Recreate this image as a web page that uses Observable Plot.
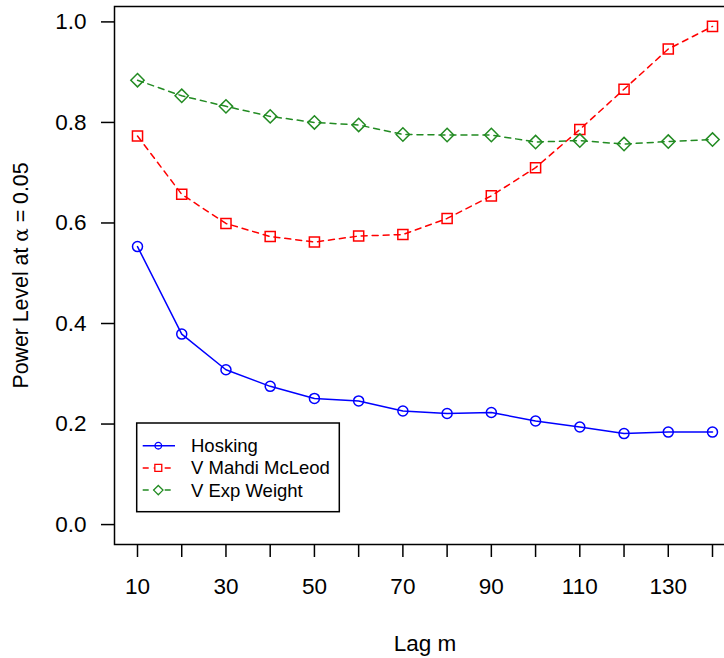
<!DOCTYPE html>
<html>
<head>
<meta charset="utf-8">
<script src="https://cdn.jsdelivr.net/npm/d3@7"></script>
<script src="https://cdn.jsdelivr.net/npm/@observablehq/plot@0.6"></script>
<style>
  html, body { margin: 0; padding: 0; overflow: hidden; background: white; }
  #chart { position: relative; width: 724px; height: 658px; overflow: hidden; }
  #chart svg { font-family: "Liberation Sans", Arial, sans-serif; max-width: none !important; }
</style>
</head>
<body>
<div id="chart"></div>
<script>
// ---- data ----
const lags = [10, 20, 30, 40, 50, 60, 70, 80, 90, 100, 110, 120, 130, 140];
const hosking = [0.553, 0.379, 0.308, 0.275, 0.251, 0.246, 0.226, 0.221, 0.223, 0.206, 0.194, 0.181, 0.184, 0.184];
const mahdiMcLeod = [0.773, 0.657, 0.599, 0.573, 0.562, 0.574, 0.577, 0.609, 0.654, 0.710, 0.786, 0.866, 0.946, 0.991];
const expWeight = [0.884, 0.853, 0.832, 0.812, 0.800, 0.795, 0.776, 0.775, 0.775, 0.761, 0.764, 0.757, 0.762, 0.766];

const seriesNames = ["Hosking", "V Mahdi McLeod", "V Exp Weight"];
const seriesColors = ["#0000FF", "#FF0000", "#228B22"];
const seriesSymbols = ["circle", "square", "diamond2"];
const seriesDash = [null, "6,5", "6,5"];

const xTicks = [10, 20, 30, 40, 50, 60, 70, 80, 90, 100, 110, 120, 130, 140];
const xTickLabels = [10, 30, 50, 70, 90, 110, 130];
const yTicks = [0, 0.2, 0.4, 0.6, 0.8, 1.0];
const xTitle = "Lag m";
const yTitle = "Power Level at α = 0.05";

// ---- build ----
const seriesValues = [hosking, mahdiMcLeod, expWeight];
const series = seriesNames.map((name, i) => lags.map((lag, j) => ({lag, value: seriesValues[i][j], name})));

// R-style axis extension (4%)
const xmin = d3.min(lags), xmax = d3.max(lags);
const ymin = 0, ymax = d3.max(seriesValues.flat());
const xpad = (xmax - xmin) * 0.04, ypad = (ymax - ymin) * 0.04;

const marks = [];
series.forEach((data, i) => {
  marks.push(Plot.line(data, {x: "lag", y: "value", stroke: seriesColors[i], strokeWidth: 1.5,
    strokeDasharray: seriesDash[i] ?? undefined}));
  marks.push(Plot.dot(data, {x: "lag", y: "value", stroke: seriesColors[i], fill: "none",
    symbol: seriesSymbols[i], r: i === 0 ? 5 : (i === 1 ? 5.7 : 6), strokeWidth: 1.5}));
});

const chart = Plot.plot({
  width: 735,
  height: 658,
  marginLeft: 114,
  marginRight: 0,
  marginTop: 6,
  marginBottom: 114,
  style: {fontFamily: '"Liberation Sans", Arial, sans-serif', color: "black", background: "white", maxWidth: "none"},
  x: {domain: [xmin - xpad, xmax + xpad], label: null},
  y: {domain: [ymin - ypad, ymax + ypad], label: null},
  marks: [
    Plot.axisX(xTicks, {tickSize: 13, tickPadding: 21, fontSize: 22.5, strokeWidth: 1.5,
      tickFormat: d => xTickLabels.includes(d) ? String(d) : "", label: null}),
    Plot.axisY(yTicks, {tickSize: 13, tickPadding: 15, fontSize: 22.5, strokeWidth: 1.5,
      tickFormat: d => d.toFixed(1), label: null}),
    ...marks,
    Plot.frame({stroke: "black", strokeWidth: 1.5}),
    Plot.text([xTitle], {text: d => d, frameAnchor: "bottom", dy: 99, lineAnchor: "middle", textAnchor: "middle", fontSize: 22.5, fill: "black"}),
    Plot.text([yTitle], {text: d => d, frameAnchor: "left", dx: -93, rotate: -90, lineAnchor: "middle", textAnchor: "middle", fontSize: 21.3, fill: "black"})
  ]
});

chart.style.maxWidth = "none";
chart.style.width = "735px";
chart.style.height = "658px";
document.getElementById("chart").appendChild(chart);

// alpha in a serif (symbol-like) face, as R plotmath does
d3.select(chart).selectAll("text").each(function() {
  const t = this.textContent;
  if (t === yTitle) {
    const el = d3.select(this);
    el.text(null);
    const parts = yTitle.split("α");
    el.append("tspan").text(parts[0]);
    el.append("tspan").attr("font-family", '"DejaVu Serif", serif').attr("font-size", 20).text("α");
    el.append("tspan").text(parts[1]);
  }
});

// ---- legend (R legend box, bottom-left inside the plot) ----
const svg = d3.select(chart);
const lg = svg.append("g").attr("transform", "translate(136.7,423)")
  .attr("text-anchor", "start").attr("font-family", '"Liberation Sans", Arial, sans-serif');
lg.append("rect").attr("x", 0).attr("y", 0).attr("width", 202.6).attr("height", 88.7)
  .attr("fill", "white").attr("stroke", "black").attr("stroke-width", 1.5);
const legendSymbolSize = [3.3, 3.9, 4.2];
seriesNames.forEach((name, i) => {
  const cy = 22.7 + i * 22.2;
  lg.append("line").attr("x1", 6).attr("x2", 38.3).attr("y1", cy).attr("y2", cy)
    .attr("stroke", seriesColors[i]).attr("stroke-width", 1.5)
    .attr("stroke-dasharray", seriesDash[i]);
  const symType = i === 0 ? d3.symbolCircle : (i === 1 ? d3.symbolSquare : d3.symbolDiamond2);
  const r = legendSymbolSize[i];
  lg.append("path").attr("d", d3.symbol(symType, Math.PI * r * r)())
    .attr("transform", `translate(21.6,${cy})`)
    .attr("fill", i === 0 ? "none" : "white").attr("stroke", seriesColors[i]).attr("stroke-width", 1.3);
  lg.append("text").attr("x", 54.3).attr("y", cy).attr("dy", "0.35em")
    .attr("text-anchor", "start")
    .attr("font-size", 18.5).attr("fill", "black").text(name);
});
</script>
</body>
</html>
